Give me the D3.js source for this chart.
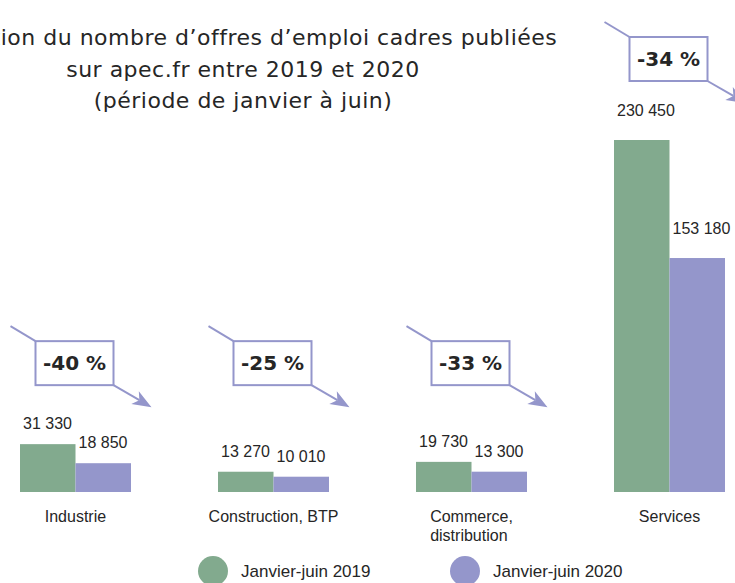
<!DOCTYPE html>
<html>
<head>
<meta charset="utf-8">
<script src="https://cdn.jsdelivr.net/npm/d3@7"></script>
<style>
  body { margin: 0; background: #fff; }
  svg { display: block; }
</style>
</head>
<body>
<svg width="735" height="583"></svg>
<script>
// Categories (label lines) and values for each half-year
const categories = ["Industrie", "Construction, BTP", "Commerce,\ndistribution", "Services"];
const values2019 = [31330, 13270, 19730, 230450];
const values2020 = [18850, 10010, 13300, 153180];
const changes = ["-40 %", "-25 %", "-33 %", "-34 %"];
const seriesNames = ["Janvier-juin 2019", "Janvier-juin 2020"];
const titleLines = [
    "Évolution du nombre d’offres d’emploi cadres publiées",
    "sur apec.fr entre 2019 et 2020",
    "(période de janvier à juin)"
];

const colors = ["#82aa8e", "#9496cb"];
const lineColor = "#9496cb";
const textColor = "#262626";

const svg = d3.select("svg");
const baseY = 492;

const x = d3.scalePoint().domain(categories).range([75.5, 669.5]);
const xs = d3.scaleBand().domain(seriesNames).range([-55.5, 55.5]);
const y = d3.scaleLinear().domain([0, d3.max(values2019)]).range([baseY, 140]);

const fmt = v => d3.format(",")(v).replace(/,/g, " ");

// Title
svg.append("g")
    .selectAll("text")
    .data(titleLines)
    .join("text")
    .attr("x", 243)
    .attr("y", (d, i) => 45 + i * 31.5)
    .attr("text-anchor", "middle")
    .style("font-family", "DejaVu Sans")
    .style("font-size", "22px")
    .style("letter-spacing", "0.5px")
    .style("fill", textColor)
    .text(d => d);

const rows = categories.map((c, i) => ({
    cat: c,
    vals: [values2019[i], values2020[i]],
    change: changes[i]
}));

const groups = svg.append("g")
    .selectAll("g")
    .data(rows)
    .join("g")
    .attr("transform", d => `translate(${x(d.cat)},0)`);

// bars
groups.selectAll("rect")
    .data(d => d.vals.map((v, j) => ({ v, s: seriesNames[j], j })))
    .join("rect")
    .attr("x", d => xs(d.s))
    .attr("width", xs.bandwidth())
    .attr("y", d => y(d.v))
    .attr("height", d => baseY - y(d.v))
    .attr("fill", d => colors[d.j]);

// value labels
groups.selectAll("text.val")
    .data(d => d.vals.map((v, j) => ({ v, s: seriesNames[j], j, big: d3.max(d.vals) > 100000 })))
    .join("text")
    .attr("class", "val")
    .attr("x", d => xs(d.s) + 3)
    .attr("y", d => y(d.v) - (d.big ? 24 : 15))
    .style("font-family", "Liberation Sans")
    .style("font-size", "16px")
    .style("fill", textColor)
    .text(d => fmt(d.v));

// category labels (multi-line, left aligned block centred under the group)
groups.each(function(d) {
    const t = d3.select(this).append("text")
        .style("font-family", "Liberation Sans")
        .style("font-size", "16px")
        .style("fill", textColor);
    const lines = d.cat.split("\n");
    t.selectAll("tspan")
        .data(lines)
        .join("tspan")
        .attr("x", 0)
        .attr("y", (l, i) => 522 + i * 19)
        .text(l => l);
    const w = t.node().getBBox().width;
    t.attr("transform", `translate(${-w / 2},0)`);
});

// change callouts
const smallTop = d3.min(rows.filter(r => d3.max(r.vals) < 100000), r => y(d3.max(r.vals)));
groups.each(function(d) {
    const g = d3.select(this);
    const top = d3.max(d.vals) > 100000 ? y(d3.max(d.vals)) : smallTop;
    const bw = 78, bh = 44;
    const bx = -40, by = top - 59 - bh;
    g.append("line")
        .attr("x1", bx - 25).attr("y1", by - 15)
        .attr("x2", bx).attr("y2", by)
        .attr("stroke", lineColor).attr("stroke-width", 2);

    // arrow from bottom-right corner
    const x1 = bx + bw, y1 = by + bh;
    const tx = x1 + 38, ty = y1 + 22;
    const len = Math.hypot(tx - x1, ty - y1);
    const ux = (tx - x1) / len, uy = (ty - y1) / len;
    const hl = 19, hw = 7.5, notch = 5;
    const bxp = tx - ux * hl, byp = ty - uy * hl;
    g.append("line")
        .attr("x1", x1).attr("y1", y1)
        .attr("x2", tx - ux * (hl - notch)).attr("y2", ty - uy * (hl - notch))
        .attr("stroke", lineColor).attr("stroke-width", 2);
    g.append("path")
        .attr("d", `M${tx},${ty} L${bxp - uy * hw},${byp + ux * hw} L${tx - ux * (hl - notch)},${ty - uy * (hl - notch)} L${bxp + uy * hw},${byp - ux * hw} Z`)
        .attr("fill", lineColor);

    g.append("rect")
        .attr("x", bx).attr("y", by)
        .attr("width", bw).attr("height", bh)
        .attr("fill", "#fff")
        .attr("stroke", lineColor).attr("stroke-width", 2);
    g.append("text")
        .attr("x", bx + bw / 2).attr("y", by + bh / 2 + 7)
        .attr("text-anchor", "middle")
        .style("font-family", "DejaVu Sans")
        .style("font-weight", "bold")
        .style("font-size", "20px")
        .style("fill", textColor)
        .text(d.change);
});

// legend
const legend = svg.append("g")
    .selectAll("g")
    .data(seriesNames)
    .join("g")
    .attr("transform", (d, i) => `translate(${213 + i * 252},571)`);
legend.append("circle")
    .attr("r", 15)
    .attr("fill", (d, i) => colors[i]);
legend.append("text")
    .attr("x", 28)
    .attr("y", 6)
    .style("font-family", "Liberation Sans")
    .style("font-size", "17px")
    .style("fill", textColor)
    .text(d => d);
</script>
</body>
</html>
